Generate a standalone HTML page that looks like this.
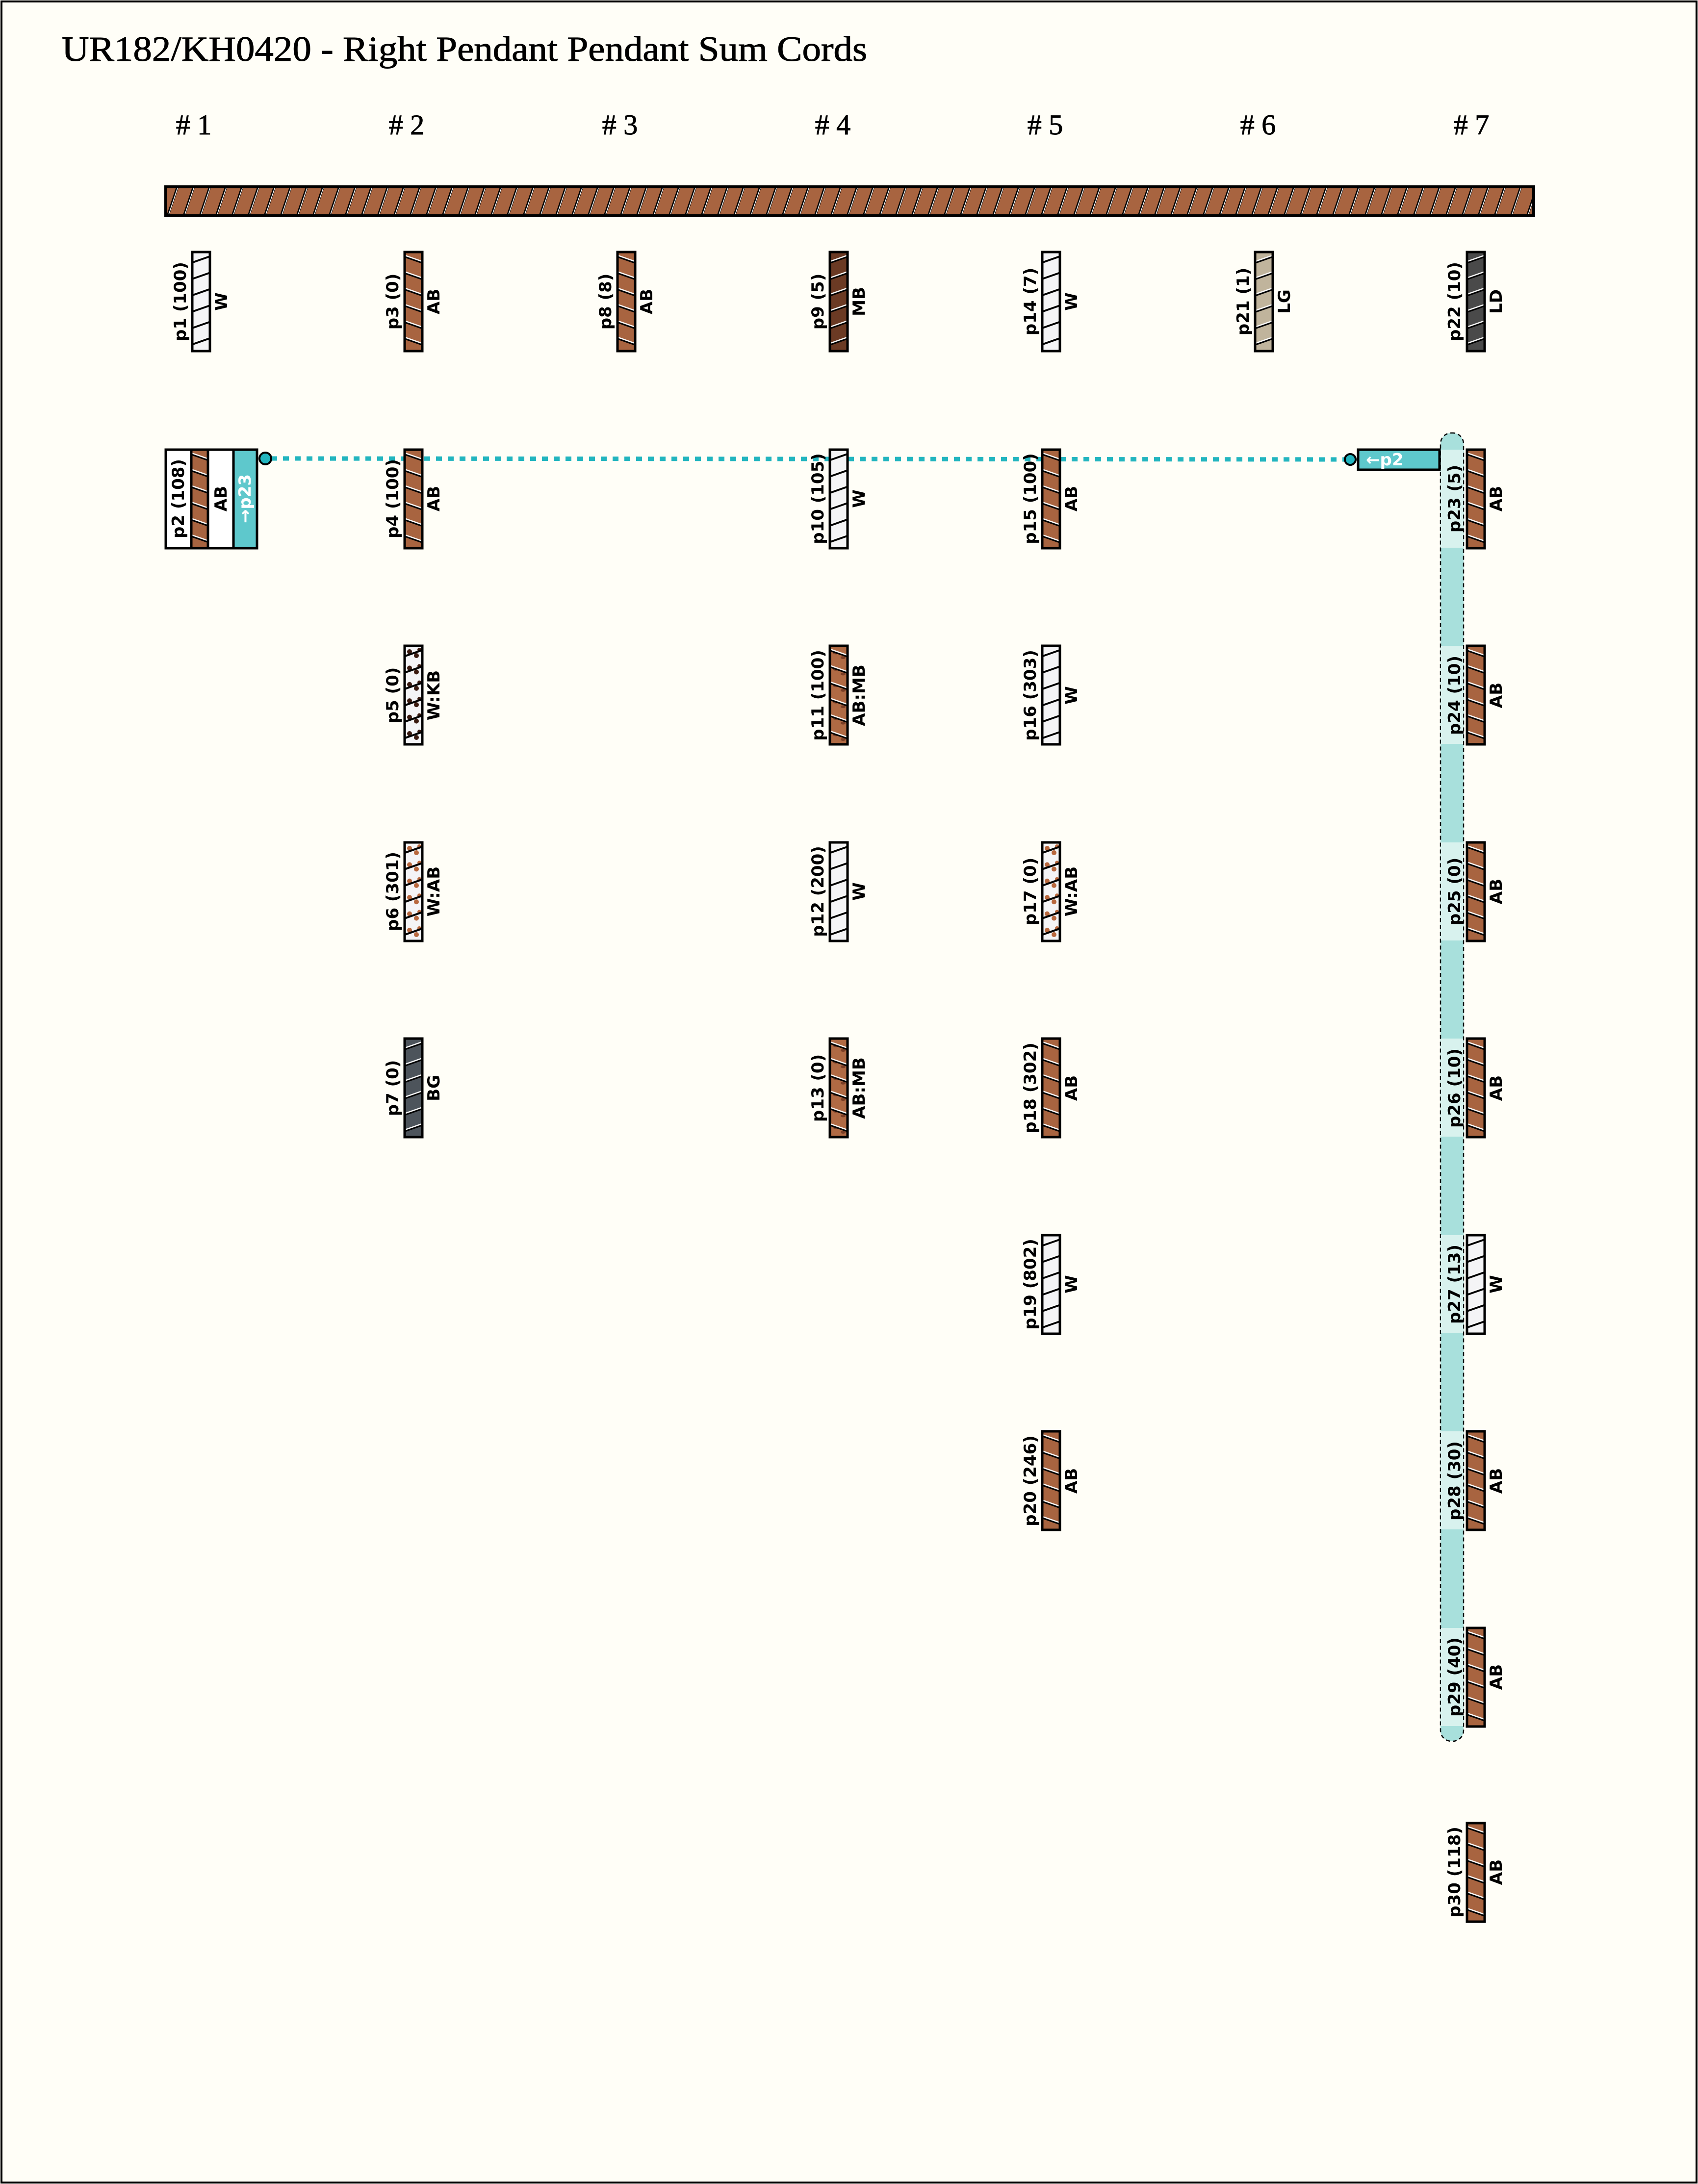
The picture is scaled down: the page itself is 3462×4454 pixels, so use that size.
<!DOCTYPE html>
<html><head><meta charset="utf-8"><style>
html,body{margin:0;padding:0;background:#fffef7;}
svg{display:block}
.l{font-family:"DejaVu Sans","Liberation Sans",sans-serif;font-size:34px;font-weight:bold;fill:#000;text-anchor:middle;dominant-baseline:central}
.h{font-family:"Liberation Serif",serif;font-size:58px;fill:#000;stroke:#000;stroke-width:1px;text-anchor:middle}
.c rect{stroke-width:5}
</style></head><body>
<svg width="3462" height="4454" viewBox="0 0 3462 4454" xmlns="http://www.w3.org/2000/svg">
<defs>
<pattern id="bar" patternUnits="userSpaceOnUse" width="33" height="59">
<rect width="33" height="59" fill="#a86440"/>
<line x1="3" y1="62" x2="25" y2="-3" stroke="#000" stroke-width="5"/>
<line x1="4" y1="62" x2="26" y2="-3" stroke="#fff" stroke-width="1.5"/>
</pattern>
<pattern id="AB" patternUnits="userSpaceOnUse" width="36" height="33.4">
<rect width="36" height="33.4" fill="#a86440"/>
<line x1="-2" y1="8" x2="38" y2="22" stroke="#000" stroke-width="5"/>
<line x1="-2" y1="6" x2="38" y2="20" stroke="#fff" stroke-width="2.5"/>
</pattern>
<pattern id="MB" patternUnits="userSpaceOnUse" width="36" height="33.4">
<rect width="36" height="33.4" fill="#6b3a24"/>
<line x1="-2" y1="22" x2="38" y2="8" stroke="#000" stroke-width="5"/>
<line x1="-2" y1="20" x2="38" y2="6" stroke="#fff" stroke-width="2.5"/>
</pattern>
<pattern id="LG" patternUnits="userSpaceOnUse" width="36" height="33.4">
<rect width="36" height="33.4" fill="#c0b49c"/>
<line x1="-2" y1="22" x2="38" y2="8" stroke="#000" stroke-width="5"/>
<line x1="-2" y1="20" x2="38" y2="6" stroke="#fff" stroke-width="2.5"/>
</pattern>
<pattern id="LD" patternUnits="userSpaceOnUse" width="36" height="33.4">
<rect width="36" height="33.4" fill="#4a4a4a"/>
<line x1="-2" y1="22" x2="38" y2="8" stroke="#000" stroke-width="5"/>
<line x1="-2" y1="20" x2="38" y2="6" stroke="#fff" stroke-width="2.5"/>
</pattern>
<pattern id="BG" patternUnits="userSpaceOnUse" width="36" height="33.4">
<rect width="36" height="33.4" fill="#4d545b"/>
<line x1="-2" y1="22" x2="38" y2="8" stroke="#000" stroke-width="5"/>
<line x1="-2" y1="20" x2="38" y2="6" stroke="#fff" stroke-width="2.5"/>
</pattern>
<pattern id="W" patternUnits="userSpaceOnUse" width="36" height="33.4">
<rect width="36" height="33.4" fill="#f4f4f6"/>
<line x1="-2" y1="22" x2="38" y2="8" stroke="#000" stroke-width="4"/>
<line x1="-2" y1="19" x2="38" y2="5" stroke="#fff" stroke-width="2"/>
</pattern>
<pattern id="WKB" patternUnits="userSpaceOnUse" width="36" height="33.4">
<rect width="36" height="33.4" fill="#f4f4f6"/>
<circle cx="10" cy="12" r="5" fill="#3a1a10"/><circle cx="24" cy="20" r="5" fill="#3a1a10"/><circle cx="30" cy="8" r="4" fill="#3a1a10"/>
<line x1="-2" y1="22" x2="38" y2="8" stroke="#000" stroke-width="4"/>
</pattern>
<pattern id="WAB" patternUnits="userSpaceOnUse" width="36" height="33.4">
<rect width="36" height="33.4" fill="#f4f4f6"/>
<circle cx="10" cy="12" r="5" fill="#b8683e"/><circle cx="24" cy="21" r="5" fill="#b8683e"/><circle cx="30" cy="8" r="4" fill="#b8683e"/>
<line x1="-2" y1="22" x2="38" y2="8" stroke="#000" stroke-width="4"/>
</pattern>
<pattern id="ABMB" patternUnits="userSpaceOnUse" width="36" height="33.4">
<rect width="36" height="33.4" fill="#b06a44"/>
<ellipse cx="12" cy="14" rx="6" ry="3.5" fill="#7a3e26"/><ellipse cx="27" cy="24" rx="5" ry="3" fill="#7a3e26"/>
<line x1="-2" y1="8" x2="38" y2="22" stroke="#000" stroke-width="5"/>
<line x1="-2" y1="6" x2="38" y2="20" stroke="#fff" stroke-width="2.5"/>
</pattern>
</defs>
<rect x="0" y="0" width="3462" height="4454" fill="#fffef7"/>
<rect x="3" y="3" width="3456" height="4448" fill="none" stroke="#000" stroke-width="4"/>
<text x="126" y="124" font-family="Liberation Serif,serif" font-size="72" stroke="#000" stroke-width="1" textLength="1642" lengthAdjust="spacingAndGlyphs">UR182/KH0420 - Right Pendant Pendant Sum Cords</text>
<text class="h" x="395" y="274"># 1</text>
<text class="h" x="829" y="274"># 2</text>
<text class="h" x="1264" y="274"># 3</text>
<text class="h" x="1698" y="274"># 4</text>
<text class="h" x="2131" y="274"># 5</text>
<text class="h" x="2565" y="274"># 6</text>
<text class="h" x="3000" y="274"># 7</text>
<g transform="translate(338,381)"><rect width="2789" height="59" fill="url(#bar)" stroke="#000" stroke-width="6"/></g>

<rect x="2937" y="883" width="47" height="2668" rx="22" fill="#a8e0dc" stroke="#000" stroke-width="2.5" stroke-dasharray="8,6"/>
<g fill="#d8f2ee">
<rect x="2938" y="917" width="45" height="200"/>
<rect x="2938" y="1317" width="45" height="200"/>
<rect x="2938" y="1718" width="45" height="200"/>
<rect x="2938" y="2118" width="45" height="200"/>
<rect x="2938" y="2519" width="45" height="200"/>
<rect x="2938" y="2919" width="45" height="200"/>
<rect x="2938" y="3320" width="45" height="200"/>
</g>

<line x1="553" y1="935" x2="2741" y2="937" stroke="#22b5bf" stroke-width="9" stroke-dasharray="12,12"/>

<rect x="338" y="917" width="186" height="201" fill="#fff" stroke="#000" stroke-width="5"/>
<g transform="translate(390,917)"><rect width="34" height="201" fill="url(#AB)" stroke="#000" stroke-width="5"/></g>
<rect x="476" y="917" width="48" height="201" fill="#5ec8cc" stroke="#000" stroke-width="5"/>
<text class="l" transform="translate(364,1017) rotate(-90)">p2 (108)</text>
<text class="l" transform="translate(451,1017) rotate(-90)">AB</text>
<text class="l" style="fill:#fff" transform="translate(500,1017) rotate(-90)">→p23</text>
<circle cx="541" cy="935" r="12" fill="#22b5bf" stroke="#000" stroke-width="4"/>

<rect x="2769" y="917" width="166" height="41" fill="#5ec8cc" stroke="#000" stroke-width="5"/>
<text class="l" style="fill:#fff;text-anchor:start" x="2785" y="938">←p2</text>
<circle cx="2753" cy="937" r="11" fill="#22b5bf" stroke="#000" stroke-width="4"/>

<g class="c">
<g transform="translate(392,514)"><rect width="36" height="202" fill="url(#W)" stroke="#000"/></g>
<text class="l" transform="translate(368,615) rotate(-90)">p1 (100)</text><text class="l" transform="translate(452,615) rotate(-90)">W</text>

<g transform="translate(825,514)"><rect width="36" height="202" fill="url(#AB)" stroke="#000"/></g>
<text class="l" transform="translate(801,615) rotate(-90)">p3 (0)</text><text class="l" transform="translate(885,615) rotate(-90)">AB</text>
<g transform="translate(825,917)"><rect width="36" height="201" fill="url(#AB)" stroke="#000"/></g>
<text class="l" transform="translate(801,1017) rotate(-90)">p4 (100)</text><text class="l" transform="translate(885,1017) rotate(-90)">AB</text>
<g transform="translate(825,1317)"><rect width="36" height="201" fill="url(#WKB)" stroke="#000"/></g>
<text class="l" transform="translate(801,1418) rotate(-90)">p5 (0)</text><text class="l" transform="translate(885,1418) rotate(-90)">W:KB</text>
<g transform="translate(825,1718)"><rect width="36" height="201" fill="url(#WAB)" stroke="#000"/></g>
<text class="l" transform="translate(801,1818) rotate(-90)">p6 (301)</text><text class="l" transform="translate(885,1818) rotate(-90)">W:AB</text>
<g transform="translate(825,2118)"><rect width="36" height="201" fill="url(#BG)" stroke="#000"/></g>
<text class="l" transform="translate(801,2219) rotate(-90)">p7 (0)</text><text class="l" transform="translate(885,2219) rotate(-90)">BG</text>

<g transform="translate(1259,514)"><rect width="36" height="202" fill="url(#AB)" stroke="#000"/></g>
<text class="l" transform="translate(1235,615) rotate(-90)">p8 (8)</text><text class="l" transform="translate(1319,615) rotate(-90)">AB</text>

<g transform="translate(1692,514)"><rect width="36" height="202" fill="url(#MB)" stroke="#000"/></g>
<text class="l" transform="translate(1668,615) rotate(-90)">p9 (5)</text><text class="l" transform="translate(1752,615) rotate(-90)">MB</text>
<g transform="translate(1692,917)"><rect width="36" height="201" fill="url(#W)" stroke="#000"/></g>
<text class="l" transform="translate(1668,1017) rotate(-90)">p10 (105)</text><text class="l" transform="translate(1752,1017) rotate(-90)">W</text>
<g transform="translate(1692,1317)"><rect width="36" height="201" fill="url(#ABMB)" stroke="#000"/></g>
<text class="l" transform="translate(1668,1418) rotate(-90)">p11 (100)</text><text class="l" transform="translate(1752,1418) rotate(-90)">AB:MB</text>
<g transform="translate(1692,1718)"><rect width="36" height="201" fill="url(#W)" stroke="#000"/></g>
<text class="l" transform="translate(1668,1818) rotate(-90)">p12 (200)</text><text class="l" transform="translate(1752,1818) rotate(-90)">W</text>
<g transform="translate(1692,2118)"><rect width="36" height="201" fill="url(#ABMB)" stroke="#000"/></g>
<text class="l" transform="translate(1668,2219) rotate(-90)">p13 (0)</text><text class="l" transform="translate(1752,2219) rotate(-90)">AB:MB</text>

<g transform="translate(2125,514)"><rect width="36" height="202" fill="url(#W)" stroke="#000"/></g>
<text class="l" transform="translate(2101,615) rotate(-90)">p14 (7)</text><text class="l" transform="translate(2185,615) rotate(-90)">W</text>
<g transform="translate(2125,917)"><rect width="36" height="201" fill="url(#AB)" stroke="#000"/></g>
<text class="l" transform="translate(2101,1017) rotate(-90)">p15 (100)</text><text class="l" transform="translate(2185,1017) rotate(-90)">AB</text>
<g transform="translate(2125,1317)"><rect width="36" height="201" fill="url(#W)" stroke="#000"/></g>
<text class="l" transform="translate(2101,1418) rotate(-90)">p16 (303)</text><text class="l" transform="translate(2185,1418) rotate(-90)">W</text>
<g transform="translate(2125,1718)"><rect width="36" height="201" fill="url(#WAB)" stroke="#000"/></g>
<text class="l" transform="translate(2101,1818) rotate(-90)">p17 (0)</text><text class="l" transform="translate(2185,1818) rotate(-90)">W:AB</text>
<g transform="translate(2125,2118)"><rect width="36" height="201" fill="url(#AB)" stroke="#000"/></g>
<text class="l" transform="translate(2101,2219) rotate(-90)">p18 (302)</text><text class="l" transform="translate(2185,2219) rotate(-90)">AB</text>
<g transform="translate(2125,2519)"><rect width="36" height="201" fill="url(#W)" stroke="#000"/></g>
<text class="l" transform="translate(2101,2619) rotate(-90)">p19 (802)</text><text class="l" transform="translate(2185,2619) rotate(-90)">W</text>
<g transform="translate(2125,2919)"><rect width="36" height="201" fill="url(#AB)" stroke="#000"/></g>
<text class="l" transform="translate(2101,3020) rotate(-90)">p20 (246)</text><text class="l" transform="translate(2185,3020) rotate(-90)">AB</text>

<g transform="translate(2559,514)"><rect width="36" height="202" fill="url(#LG)" stroke="#000"/></g>
<text class="l" transform="translate(2535,615) rotate(-90)">p21 (1)</text><text class="l" transform="translate(2619,615) rotate(-90)">LG</text>

<g transform="translate(2991,514)"><rect width="36" height="202" fill="url(#LD)" stroke="#000"/></g>
<text class="l" transform="translate(2966,615) rotate(-90)">p22 (10)</text><text class="l" transform="translate(3051,615) rotate(-90)">LD</text>
<g transform="translate(2991,917)"><rect width="36" height="201" fill="url(#AB)" stroke="#000"/></g>
<text class="l" transform="translate(2966,1017) rotate(-90)">p23 (5)</text><text class="l" transform="translate(3051,1017) rotate(-90)">AB</text>
<g transform="translate(2991,1317)"><rect width="36" height="201" fill="url(#AB)" stroke="#000"/></g>
<text class="l" transform="translate(2966,1418) rotate(-90)">p24 (10)</text><text class="l" transform="translate(3051,1418) rotate(-90)">AB</text>
<g transform="translate(2991,1718)"><rect width="36" height="201" fill="url(#AB)" stroke="#000"/></g>
<text class="l" transform="translate(2966,1818) rotate(-90)">p25 (0)</text><text class="l" transform="translate(3051,1818) rotate(-90)">AB</text>
<g transform="translate(2991,2118)"><rect width="36" height="201" fill="url(#AB)" stroke="#000"/></g>
<text class="l" transform="translate(2966,2219) rotate(-90)">p26 (10)</text><text class="l" transform="translate(3051,2219) rotate(-90)">AB</text>
<g transform="translate(2991,2519)"><rect width="36" height="201" fill="url(#W)" stroke="#000"/></g>
<text class="l" transform="translate(2966,2619) rotate(-90)">p27 (13)</text><text class="l" transform="translate(3051,2619) rotate(-90)">W</text>
<g transform="translate(2991,2919)"><rect width="36" height="201" fill="url(#AB)" stroke="#000"/></g>
<text class="l" transform="translate(2966,3020) rotate(-90)">p28 (30)</text><text class="l" transform="translate(3051,3020) rotate(-90)">AB</text>
<g transform="translate(2991,3320)"><rect width="36" height="201" fill="url(#AB)" stroke="#000"/></g>
<text class="l" transform="translate(2966,3420) rotate(-90)">p29 (40)</text><text class="l" transform="translate(3051,3420) rotate(-90)">AB</text>
<g transform="translate(2991,3718)"><rect width="36" height="201" fill="url(#AB)" stroke="#000"/></g>
<text class="l" transform="translate(2966,3818) rotate(-90)">p30 (118)</text><text class="l" transform="translate(3051,3818) rotate(-90)">AB</text>
</g>
</svg>
</body></html>
